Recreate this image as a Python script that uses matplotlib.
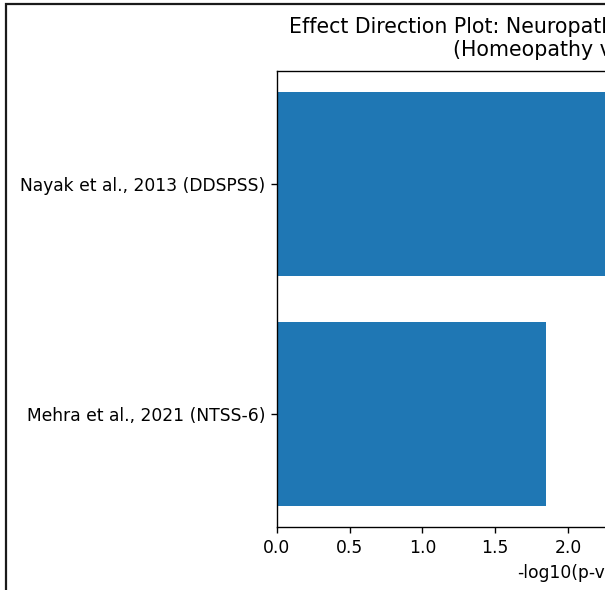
import matplotlib
matplotlib.use("Agg")
import matplotlib.pyplot as plt
from matplotlib.patches import Rectangle

# estudos e valores de -log10(p)
estudos = ["Mehra et al., 2021 (NTSS-6)", "Nayak et al., 2013 (DDSPSS)"]
neg_log_p = [1.85, 4.0]

titulo = "Effect Direction Plot: Neuropathic Pain Severity Outcomes\n(Homeopathy vs Placebo)"

W, H = 605, 590
DPI = 123  # a imagem original estava ampliada (~1.23x)
fig = plt.figure(figsize=(W / DPI, H / DPI), dpi=DPI)

# eixo maior que a figura: a imagem original foi cortada à direita
ax_w = 611
ax = fig.add_axes([277 / W, (H - 527) / H, ax_w / W, 456 / H])
ax.barh(estudos, neg_log_p, color="#1f77b4")
ax.set_xlabel("-log10(p-value)")
ax.set_title(titulo, fontsize=12, pad=8.5, x=0.505)

# moldura da captura original
fig.add_artist(Rectangle((5.5 / W, -0.1), 2.0, (H - 4) / H + 0.1,
                         transform=fig.transFigure, fill=False,
                         edgecolor="#1a1a1a", linewidth=1.3))

fig.savefig("out.png", dpi=DPI)
